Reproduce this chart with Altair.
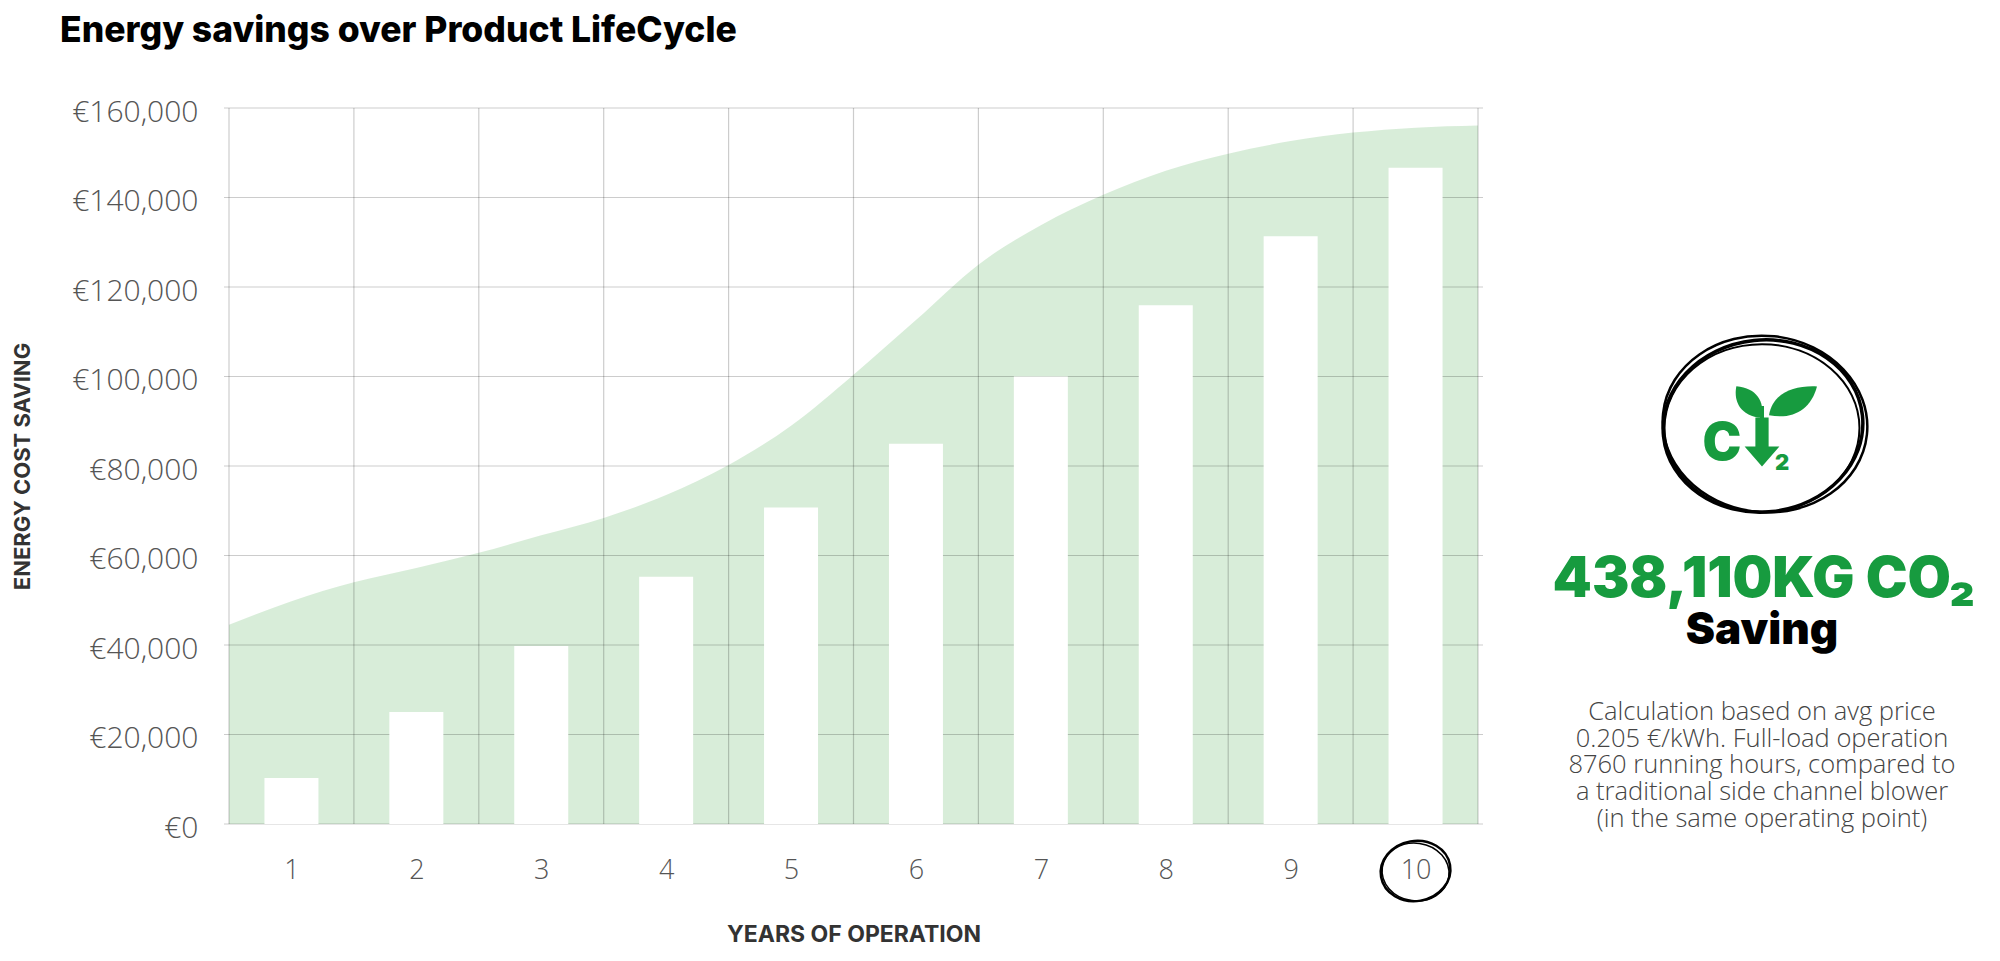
import pandas as pd
import altair as alt

# Cumulative energy cost saving per year of operation (in €)
years = [1, 2, 3, 4, 5, 6, 7, 8, 9, 10]
savings = [10300, 25050, 39800, 55250, 70750, 84950, 100000, 115900, 131350, 146650]

# Green envelope behind the bars, read at every half year
curve_x = [0.5, 1, 1.5, 2, 2.5, 3, 3.5, 4, 4.5, 5, 5.5,
           6, 6.5, 7, 7.5, 8, 8.5, 9, 9.5, 10, 10.5]
curve_y = [44500, 49800, 54000, 57200, 60600, 64500, 68400, 73500, 80200, 89000, 100400,
           112600, 125000, 133800, 140600, 146000, 149800, 152600, 154500, 155600, 156100]

# grid: y every 20k, x on the edges between the years
y_ticks = [0, 20000, 40000, 60000, 80000, 100000, 120000, 140000, 160000]
band_edges = [0.5, 1.5, 2.5, 3.5, 4.5, 5.5, 6.5, 7.5, 8.5, 9.5, 10.5]
highlight_year = [10]

title_text = "Energy savings over Product LifeCycle"
co2_text = "438,110KG CO₂"
saving_text = "Saving"
note_lines = [
    "Calculation based on avg price",
    "0.205 €/kWh. Full-load operation",
    "8760 running hours, compared to",
    "a traditional side channel blower",
    "(in the same operating point)",
]

GREEN = "#179b3f"
W, H = 1259, 716

bars_df = pd.DataFrame({"year": years, "saving": savings})
curve_df = pd.DataFrame({"year": curve_x, "saving": curve_y})
hl_df = pd.DataFrame({"year": highlight_year})
one = pd.DataFrame({"k": [0]})

x_scale = alt.Scale(domain=[0.5, 10.5], nice=False, zero=False)
y_scale = alt.Scale(domain=[0, 160000], nice=False)

x_axis = alt.Axis(
    values=years, format="d", grid=False,
    labelOverlap=False, labelFlush=False,
    ticks=False, domain=False,
    labelFont="Open Sans", labelFontWeight=300, labelFontSize=27, labelColor="#555555",
    labelPadding=33,
    title="YEARS OF OPERATION", titleFont="Inter", titleFontWeight="bold",
    titleFontSize=23, titleColor="#333333", titleY=110, titleBaseline="middle",
)
y_axis = alt.Axis(
    values=y_ticks, grid=False,
    labelExpr="'€' + format(datum.value, ',')",
    labelFlush=False, labelOffset=4,
    ticks=False, domain=False,
    labelFont="Open Sans", labelFontWeight=300, labelFontSize=30, labelColor="#555555",
    labelPadding=26,
    title="ENERGY COST SAVING", titleFont="Inter", titleFontWeight="bold",
    titleFontSize=22, titleColor="#333333", titleX=-202, titleY=H / 2,
    titleBaseline="middle", titleAngle=270,
)

area = alt.Chart(curve_df).mark_area(
    interpolate="monotone", color="#4caf50", opacity=0.22
).encode(
    x=alt.X("year:Q", scale=x_scale, axis=x_axis),
    y=alt.Y("saving:Q", scale=y_scale, axis=y_axis),
)

# grid drawn over the green area (translucent, so it darkens on the green)
h_grid = alt.Chart(pd.DataFrame({"saving": y_ticks})).mark_rule(
    color="black", opacity=0.2, strokeWidth=1.2
).encode(y="saving:Q")
v_grid = alt.Chart(pd.DataFrame({"year": band_edges})).mark_rule(
    color="black", opacity=0.2, strokeWidth=1.2
).encode(x="year:Q")

bars = alt.Chart(bars_df).mark_bar(width=54, color="white").encode(
    x="year:Q",
    y="saving:Q",
)

# scribbled ring around the last year label
ellipse = "M-1,0 A1,0.86 0 1,1 1,0 A1,0.86 0 1,1 -1,0 Z"
ring10 = alt.layer(
    alt.Chart(hl_df).mark_point(shape=ellipse, filled=False, stroke="black",
                                strokeWidth=2.5, size=4900, angle=350, opacity=1)
    .encode(x="year:Q", y=alt.value(763)),
    alt.Chart(hl_df).mark_point(shape=ellipse, filled=False, stroke="black",
                                strokeWidth=1.5, size=4500, angle=8, opacity=1)
    .encode(x="year:Q", y=alt.value(764)),
)

# CO2 icon in the side panel
ring_icon = alt.layer(
    alt.Chart(one).mark_point(shape=ellipse, filled=False, stroke="black",
                              strokeWidth=3.5, size=40000, angle=354, opacity=1)
    .encode(x=alt.value(1539), y=alt.value(318)),
    alt.Chart(one).mark_point(shape=ellipse, filled=False, stroke="black",
                              strokeWidth=2.5, size=42000, angle=6, opacity=1)
    .encode(x=alt.value(1541), y=alt.value(316)),
    alt.Chart(one).mark_point(shape=ellipse, filled=False, stroke="black",
                              strokeWidth=2, size=38000, angle=0, opacity=1)
    .encode(x=alt.value(1538), y=alt.value(320)),
)
leaf_right = "M-1,0.55 C-0.85,-0.35 0,-0.7 1,-0.65 C0.75,0.3 0,0.75 -1,0.55 Z"
leaf_left = "M0.8,1 C-0.5,0.9 -1,0 -0.8,-1 C0.5,-0.9 1,0 0.8,1 Z"
arrow = "M-0.27,-1 L0.27,-1 L0.27,0.18 L0.71,0.18 L0,1 L-0.71,0.18 L-0.27,0.18 Z"
icon = alt.layer(
    alt.Chart(one).mark_rule(color=GREEN, strokeWidth=4)
    .encode(x=alt.value(1538), y=alt.value(298), y2=alt.value(314)),
    alt.Chart(one).mark_point(shape=leaf_right, filled=True, color=GREEN, size=2300, opacity=1)
    .encode(x=alt.value(1569), y=alt.value(294)),
    alt.Chart(one).mark_point(shape=leaf_left, filled=True, color=GREEN, size=1000, opacity=1)
    .encode(x=alt.value(1525), y=alt.value(294)),
    alt.Chart(one).mark_point(shape=arrow, filled=True, color=GREEN, size=2400, opacity=1)
    .encode(x=alt.value(1538), y=alt.value(334)),
    alt.Chart(one).mark_text(text="C", font="Inter", fontWeight=900, fontSize=52,
                             color=GREEN, align="center", baseline="middle")
    .encode(x=alt.value(1498), y=alt.value(336)),
    alt.Chart(one).mark_text(text="2", font="Inter", fontWeight=900, fontSize=22,
                             color=GREEN, align="center", baseline="middle")
    .encode(x=alt.value(1558), y=alt.value(355)),
)

co2 = alt.Chart(one).mark_text(
    text=co2_text, font="Inter", fontWeight=900, fontSize=56, color=GREEN,
    align="center", baseline="alphabetic"
).encode(x=alt.value(1540), y=alt.value(489))

saving = alt.Chart(one).mark_text(
    text=saving_text, font="Inter", fontWeight=900, fontSize=44, color="black",
    align="center", baseline="alphabetic"
).encode(x=alt.value(1538), y=alt.value(536))

note = alt.Chart(one).mark_text(
    text=note_lines, font="Open Sans", fontWeight=300, fontSize=25.5, color="#444444",
    lineHeight=26.7, align="center", baseline="middle"
).encode(x=alt.value(1538), y=alt.value(604))

chart = alt.layer(
    area, h_grid, v_grid, bars, ring10, ring_icon, icon, co2, saving, note
).properties(
    width=W, height=H,
    title=alt.Title(title_text, anchor="start", frame="group", dx=-164, offset=48,
                    font="Inter", fontWeight=800, fontSize=35.5, color="black"),
    autosize=alt.AutoSizeParams(type="none"),
    padding={"left": 216, "top": 100, "right": 508, "bottom": 129},
    background="white",
).configure_view(
    strokeWidth=0
)

chart.save("out.html", embed_options={"renderer": "svg", "actions": False})
